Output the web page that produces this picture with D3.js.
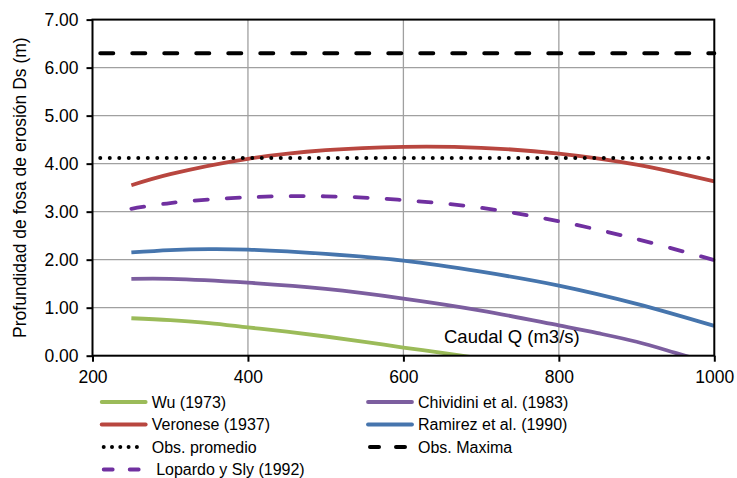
<!DOCTYPE html>
<html>
<head>
<meta charset="utf-8">
<script src="https://cdn.jsdelivr.net/npm/d3@7/dist/d3.min.js"></script>
<style>
  html, body { margin: 0; padding: 0; background: #fff; }
  svg { display: block; font-family: "Liberation Sans", Arial, sans-serif; }
</style>
</head>
<body>
<svg id="chart" width="737" height="478"></svg>
<script>
// Caudal Q (m3/s) sampled for each formula
const qWu = [250, 300, 350, 400, 450, 500, 550, 600, 650, 700];
const dsWu = [0.78, 0.74, 0.68, 0.59, 0.50, 0.40, 0.29, 0.17, 0.06, -0.06];

const qVeronese = [250, 300, 400, 500, 600, 700, 800, 900, 1000];
const dsVeronese = [3.55, 3.78, 4.10, 4.28, 4.35, 4.33, 4.21, 3.98, 3.63];

const qChividini = [250, 300, 400, 500, 600, 700, 800, 850, 900, 950, 1000];
const dsChividini = [1.60, 1.60, 1.52, 1.39, 1.19, 0.94, 0.63, 0.47, 0.29, 0.06, -0.18];

const qRamirez = [250, 300, 350, 400, 500, 600, 700, 800, 900, 1000];
const dsRamirez = [2.15, 2.20, 2.22, 2.21, 2.12, 1.98, 1.75, 1.46, 1.08, 0.62];

const qLopardo = [250, 300, 400, 500, 600, 700, 800, 900, 1000];
const dsLopardo = [3.06, 3.18, 3.30, 3.32, 3.24, 3.08, 2.80, 2.43, 1.99];

const qObs = [210, 1000];
const dsObsPromedio = [4.12, 4.12];
const dsObsMaxima = [6.30, 6.30];

const xTicks = [200, 400, 600, 800, 1000];
const yTicks = [0, 1, 2, 3, 4, 5, 6, 7];

const xTitle = "Caudal Q (m3/s)";
const yTitle = "Profundidad de fosa de erosión Ds (m)";

const series = [
  { name: "Wu (1973)", q: qWu, ds: dsWu, color: "#9bbb59", dash: null, cap: "butt", width: 3.8 },
  { name: "Veronese (1937)", q: qVeronese, ds: dsVeronese, color: "#b8463f", dash: null, cap: "butt", width: 3.8 },
  { name: "Chividini et al. (1983)", q: qChividini, ds: dsChividini, color: "#7c5e9f", dash: null, cap: "butt", width: 3.8 },
  { name: "Ramirez et al. (1990)", q: qRamirez, ds: dsRamirez, color: "#4675ad", dash: null, cap: "butt", width: 3.8 },
  { name: "Obs. promedio", q: qObs, ds: dsObsPromedio, color: "#000", dash: "0,9.5", cap: "round", width: 4 },
  { name: "Obs. Maxima", q: qObs, ds: dsObsMaxima, color: "#000", dash: "13,19", cap: "round", width: 4 },
  { name: " Lopardo y Sly (1992)", q: qLopardo, ds: dsLopardo, color: "#7030a0", dash: "13,19", cap: "round", width: 3.8 }
];

const svg = d3.select("#chart");
const pLeft = 92.5, pRight = 714.3, pTop = 19.6, pBottom = 355.7;

const x = d3.scaleLinear().domain([200, 1000]).range([pLeft, pRight]);
const y = d3.scaleLinear().domain([0, 7]).range([pBottom, pTop]);

// grid
const grid = svg.append("g").attr("stroke", "#a0a0a0").attr("stroke-width", 1.3);
grid.selectAll("line.h").data(yTicks.slice(1, -1)).join("line")
  .attr("class", "h")
  .attr("x1", pLeft).attr("x2", pRight)
  .attr("y1", d => y(d)).attr("y2", d => y(d));
grid.selectAll("line.v").data(xTicks.slice(1, -1)).join("line")
  .attr("class", "v")
  .attr("y1", pTop).attr("y2", pBottom)
  .attr("x1", d => x(d)).attr("x2", d => x(d));

svg.append("defs").append("clipPath").attr("id", "plotClip")
  .append("rect").attr("x", pLeft).attr("y", pTop - 5)
  .attr("width", pRight - pLeft + 5).attr("height", pBottom - pTop + 5);

// series
const line = d3.line().curve(d3.curveCatmullRom.alpha(0.5));
const plot = svg.append("g").attr("clip-path", "url(#plotClip)");
series.forEach(s => {
  plot.append("path")
    .attr("d", line(s.q.map((q, i) => [x(q), y(s.ds[i])])))
    .attr("fill", "none")
    .attr("stroke", s.color)
    .attr("stroke-width", s.width)
    .attr("stroke-linecap", s.cap)
    .attr("stroke-dasharray", s.dash);
});

// frame
svg.append("rect").attr("x", pLeft).attr("y", pTop)
  .attr("width", pRight - pLeft).attr("height", pBottom - pTop)
  .attr("fill", "none").attr("stroke", "#000").attr("stroke-width", 2);

// axes
const yAxis = d3.axisLeft(y).tickValues(yTicks).tickFormat(d3.format(".2f")).tickSize(6).tickPadding(8);
const yG = svg.append("g").attr("transform", `translate(${pLeft},0)`).call(yAxis);
const xAxis = d3.axisBottom(x).tickValues(xTicks).tickFormat(d3.format("d")).tickSize(6).tickPadding(6);
const xG = svg.append("g").attr("transform", `translate(0,${pBottom})`).call(xAxis);
[yG, xG].forEach(g => {
  g.select(".domain").remove();
  g.selectAll(".tick line").attr("stroke", "#000").attr("stroke-width", 2);
  g.selectAll(".tick text").attr("fill", "#000")
    .style("font-family", "'Liberation Sans', Arial, sans-serif").style("font-size", "17.5px");
});
xG.selectAll(".tick text").attr("dy", "0.9em");

// titles
svg.append("text")
  .attr("transform", `translate(26,${(pTop + pBottom) / 2}) rotate(-90)`)
  .attr("text-anchor", "middle")
  .style("font-size", "17.5px")
  .text(yTitle);
svg.append("text")
  .attr("x", 444).attr("y", 342.5)
  .style("font-size", "18.5px")
  .text(xTitle);

// legend
const legendPos = [
  [101.7, 402], [101.7, 424.5], [101.7, 447], [368, 402], [368, 424.5], [368, 447], [101.7, 469.5]
];
const legendOrder = [0, 1, 4, 2, 3, 5, 6];
const legendDash = { "0,9.5": "0,8.3", "13,19": "9,17" };
legendOrder.forEach((si, k) => {
  const s = series[si];
  const [lx, ly] = legendPos[k];
  const g = svg.append("g").attr("transform", `translate(${lx},${ly})`);
  const isDash = s.dash !== null;
  g.append("line")
    .attr("x1", isDash ? 2 : 0).attr("x2", isDash ? 42 : 44)
    .attr("y1", 0).attr("y2", 0)
    .attr("stroke", s.color).attr("stroke-width", s.width)
    .attr("stroke-linecap", "round")
    .attr("stroke-dasharray", s.dash ? legendDash[s.dash] : null);
  g.append("text")
    .attr("x", 50).attr("y", 5.8)
    .style("white-space", "pre")
    .style("font-size", "16px")
    .text(s.name);
});
</script>
</body>
</html>
